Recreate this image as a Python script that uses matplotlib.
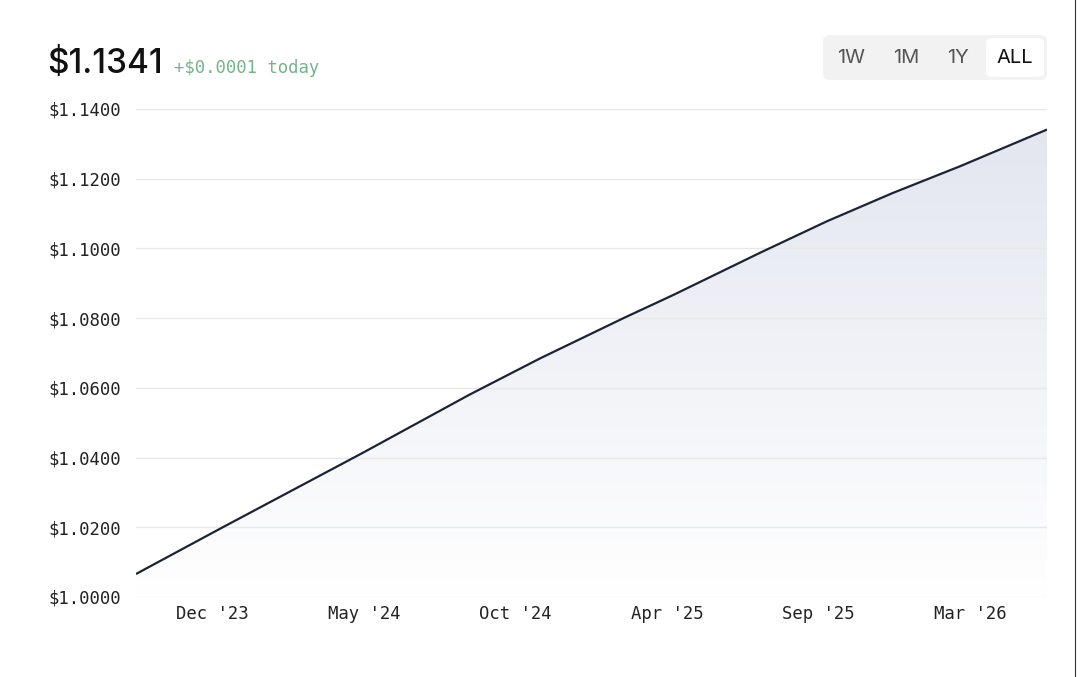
import numpy as np
import pandas as pd
import matplotlib
matplotlib.use("Agg")
import matplotlib.pyplot as plt
import matplotlib.dates as mdates
from matplotlib.patches import FancyBboxPatch, Polygon
from matplotlib.colors import LinearSegmentedColormap

# Daten
dates = ["2023-09-08", "2023-12-12", "2024-05-13", "2024-09-07", "2024-11-24",
         "2025-02-23", "2025-04-19", "2025-07-23", "2025-10-04", "2025-12-15",
         "2026-02-27", "2026-06-02"]
values = [1.0066, 1.0200, 1.0413, 1.0580, 1.0685,
          1.0800, 1.0867, 1.0988, 1.1078, 1.1159,
          1.1236, 1.1341]

tick_dates = ["2023-12-01", "2024-05-15", "2024-10-28", "2025-04-12", "2025-09-25", "2026-03-10"]
tick_labels = ["Dec '23", "May '24", "Oct '24", "Apr '25", "Sep '25", "Mar '26"]
y_ticks = [1.00, 1.02, 1.04, 1.06, 1.08, 1.10, 1.12, 1.14]

price = "$1.1341"
change = "+$0.0001 today"
ranges = ["1W", "1M", "1Y", "ALL"]

x = mdates.date2num(pd.to_datetime(dates))
y = np.array(values)

mono = ["DejaVu Sans Mono"]
sans = ["Inter", "DejaVu Sans"]

fig = plt.figure(figsize=(10.8, 6.77), dpi=100)
W, H = 1080, 677
ax = fig.add_axes([136 / W, (H - 597) / H, (1047 - 136) / W, (597 - 109) / H])

ax.set_xlim(x[0], x[-1])
ax.set_ylim(1.0, 1.14)

# Verlauf unter der Linie
cmap = LinearSegmentedColormap.from_list("fade", ["#ffffff", "#e2e5ef"])
grad = np.linspace(0, 1, 256).reshape(-1, 1)
img = ax.imshow(grad, extent=[x[0], x[-1], 1.0, 1.14], origin="lower",
                aspect="auto", cmap=cmap, zorder=1)
poly = Polygon(np.column_stack([np.r_[x, x[-1], x[0]], np.r_[y, 1.0, 1.0]]),
               closed=True, facecolor="none", edgecolor="none")
ax.add_patch(poly)
img.set_clip_path(poly)

ax.plot(x, y, color="#1c2336", lw=1.6, zorder=3, solid_capstyle="butt",
        solid_joinstyle="round")

ax.set_yticks(y_ticks)
ax.set_yticklabels([f"${v:.4f}" for v in y_ticks])
ax.set_xticks(mdates.date2num(pd.to_datetime(tick_dates)))
ax.set_xticklabels(tick_labels)
ax.grid(axis="y", color="#e8e8e8", lw=1.0, zorder=2)
ax.grid(axis="x", visible=False)
ax.set_axisbelow(False)
for s in ax.spines.values():
    s.set_visible(False)
ax.tick_params(length=0, labelsize=12.4, colors="#222222")
ax.tick_params(axis="y", pad=11)
ax.tick_params(axis="x", pad=6)
for lab in ax.get_xticklabels() + ax.get_yticklabels():
    lab.set_family(mono)

# Kopfzeile
fig.text(47 / W, 1 - 73 / H, price, fontsize=24, family=sans, weight="medium",
         color="#111111", va="baseline", ha="left")
fig.text(174 / W, 1 - 73 / H, change, fontsize=12.4, family=mono, color="#74b48a",
         va="baseline", ha="left")

# Zeitraum-Buttons
bg = FancyBboxPatch((823 / W, 1 - 80 / H), (1047 - 823) / W, 45 / H,
                    boxstyle="round,pad=0,rounding_size=0.008",
                    transform=fig.transFigure, facecolor="#f2f2f2", edgecolor="none")
fig.add_artist(bg)
act = FancyBboxPatch((986 / W, 1 - 77 / H), (1044 - 986) / W, 39 / H,
                     boxstyle="round,pad=0,rounding_size=0.007",
                     transform=fig.transFigure, facecolor="#ffffff", edgecolor="none")
fig.add_artist(act)
for lab, cx in zip(ranges, [851, 906, 958, 1015]):
    fig.text(cx / W, 1 - 58 / H, lab, fontsize=14.5, family=sans,
             color="#111111" if lab == "ALL" else "#555555",
             ha="center", va="center")

# Bildschirmrand rechts
fig.add_artist(plt.Line2D([1075 / W, 1075 / W], [0, 1], transform=fig.transFigure,
                          color="#333333", lw=0.8))

fig.savefig("out.png", dpi=100)
